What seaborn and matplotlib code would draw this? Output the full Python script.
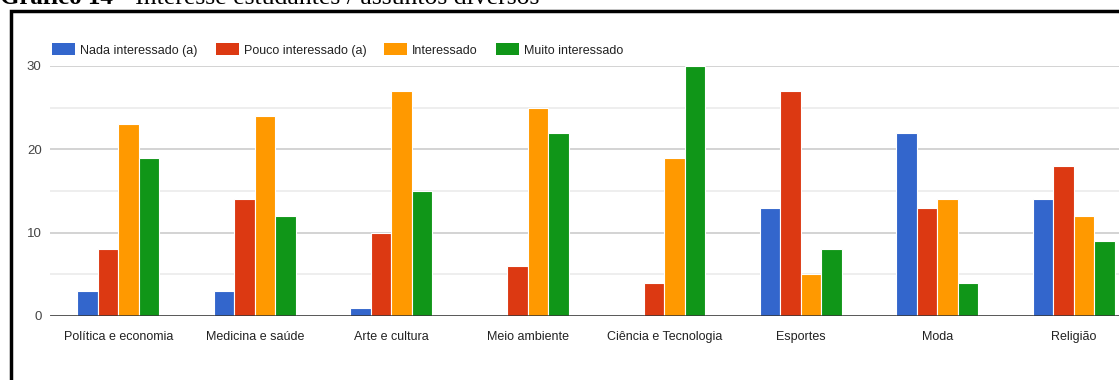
import matplotlib
matplotlib.use("Agg")
import matplotlib.pyplot as plt
import matplotlib.patches as mpatches
import seaborn as sns
import pandas as pd

# Data
categories = ["Política e economia", "Medicina e saúde", "Arte e cultura", "Meio ambiente",
              "Ciência e Tecnologia", "Esportes", "Moda", "Religião"]
series_names = ["Nada interessado (a)", "Pouco interessado (a)", "Interessado", "Muito interessado"]
nada = [3, 3, 1, 0, 0, 13, 22, 14]
pouco = [8, 14, 10, 6, 4, 27, 13, 18]
interessado = [23, 24, 27, 25, 19, 5, 14, 12]
muito = [19, 12, 15, 22, 30, 8, 4, 9]
y_ticks = [0, 10, 20, 30]
colors = ["#3366CC", "#DC3912", "#FF9900", "#109618"]

rows = []
for name, vals in zip(series_names, [nada, pouco, interessado, muito]):
    for cat, v in zip(categories, vals):
        rows.append({"Assunto": cat, "Nível": name, "Quantidade": v})
df = pd.DataFrame(rows)

sns.set_theme(style="white")
plt.rcParams["font.family"] = ["Liberation Sans", "DejaVu Sans"]

W, H = 1119, 380
fig = plt.figure(figsize=(W / 100, H / 100), dpi=100)
fig.patch.set_facecolor("white")

# plot area (extends a little beyond the right edge)
ax_left, ax_right = 50, 1142
ax_top, ax_bottom = 66, 316
ax = fig.add_axes([ax_left / W, (H - ax_bottom) / H, (ax_right - ax_left) / W, (ax_bottom - ax_top) / H])

sns.barplot(data=df, x="Assunto", y="Quantidade", hue="Nível", order=categories,
            hue_order=series_names, palette=colors, width=0.6, dodge=True,
            edgecolor="white", linewidth=0.8, saturation=1, ax=ax, legend=False)

ax.set_ylim(0, 30)
ax.set_xlim(-0.5, len(categories) - 0.5)
ax.set_yticks(y_ticks)
ax.set_yticks([5, 15, 25], minor=True)
ax.grid(axis="y", which="major", color="#cccccc", linewidth=1.2, zorder=0)
ax.grid(axis="y", which="minor", color="#ebebeb", linewidth=1.2, zorder=0)
ax.set_axisbelow(True)
ax.axhline(0, color="#333333", linewidth=1.8, zorder=5)
for s in ax.spines.values():
    s.set_visible(False)
ax.set_xlabel("")
ax.set_ylabel("")
ax.tick_params(axis="y", which="both", length=0, pad=6, labelsize=9.5, labelcolor="#444444")
ax.tick_params(axis="x", length=0, pad=11, labelsize=9, labelcolor="#222222")

# legend across the top
handles = [mpatches.Patch(facecolor=c, edgecolor="none", label=n) for c, n in zip(colors, series_names)]
fig.legend(handles=handles, loc="center left", bbox_to_anchor=(52 / W, 1 - 50 / H),
           ncol=4, frameon=False, fontsize=9, handlelength=1.84, handleheight=1.1,
           handletextpad=0.4, columnspacing=1.45, borderpad=0, borderaxespad=0,
           labelcolor="#222222")

# surrounding black frame
fig.patches.append(mpatches.Rectangle((10.5 / W, -0.2), 1.5, (H - 11) / H + 0.2,
                                      transform=fig.transFigure, fill=False,
                                      edgecolor="black", linewidth=2.5))

# caption above the frame
fig.text(0.0, 1 - 4 / H, "Gráfico 14", family=["Liberation Serif", "DejaVu Serif"],
         fontweight="bold", fontsize=18, va="baseline", ha="left", color="black")
fig.text(120 / W, 1 - 4 / H, "- Interesse estudantes / assuntos diversos",
         family=["Liberation Serif", "DejaVu Serif"], fontsize=18.5, va="baseline",
         ha="left", color="black")

fig.savefig("out.png", dpi=100, facecolor="white")
